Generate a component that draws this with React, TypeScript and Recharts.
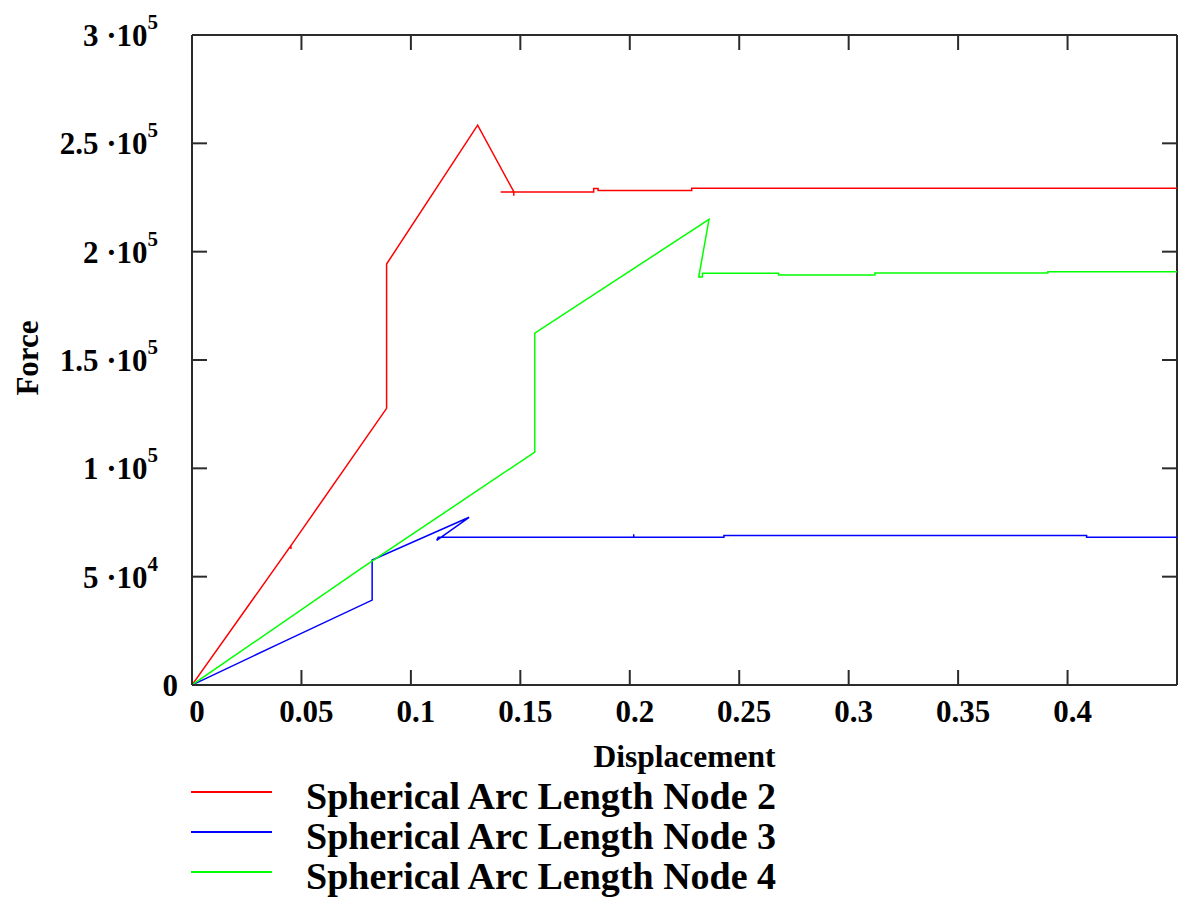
import React from 'react';
import { LineChart, Line, XAxis, YAxis, ReferenceLine } from 'recharts';

// displacement / force samples for each node (arc-length solver output)
const node2Disp = [0, 0.0452, 0.0452, 0.0452, 0.0889, 0.0889, 0.1305, 0.147, 0.147, 0.147, 0.141, 0.1835, 0.1835, 0.1855, 0.1855, 0.2283, 0.2283, 0.45];
const node2Force = [0, 64300, 62800, 64300, 127700, 194300, 258400, 227700, 225800, 227500, 227500, 227500, 229100, 229100, 228200, 228200, 229300, 229300];

const node3Disp = [0, 0.0402, 0.0823, 0.0823, 0.1266, 0.1118, 0.1125, 0.2018, 0.2018, 0.2018, 0.243, 0.243, 0.4087, 0.4087, 0.45];
const node3Force = [0, 19200, 39200, 57700, 77400, 66800, 68200, 68200, 69600, 68200, 68200, 69000, 69000, 68200, 68200];

const node4Disp = [0, 0.0775, 0.1566, 0.1566, 0.2362, 0.2315, 0.2332, 0.2332, 0.268, 0.268, 0.312, 0.312, 0.391, 0.391, 0.45];
const node4Force = [0, 53900, 107500, 162400, 214900, 188300, 188300, 190000, 190000, 189200, 189200, 190100, 190100, 190700, 190700];

const dispTicks = [0, 0.05, 0.1, 0.15, 0.2, 0.25, 0.3, 0.35, 0.4];
const forceTicks = [0, 50000, 100000, 150000, 200000, 250000, 300000];

const seriesNames = ['Spherical Arc Length Node 2', 'Spherical Arc Length Node 3', 'Spherical Arc Length Node 4'];
const seriesColors = ['#ff0000', '#0000ff', '#00ff00'];

const X_MAX = 0.45;
const Y_MAX = 300000;
const W = 1178;
const H = 778;
const MARGIN = { top: 35, right: 1, left: 0, bottom: 0 };
const Y_AXIS_W = 192;
const X_AXIS_H = 93;
const PLOT_W = W - MARGIN.left - MARGIN.right - Y_AXIS_W;
const PLOT_H = H - MARGIN.top - MARGIN.bottom - X_AXIS_H;
const TICK_PX = 15;
const tickDx = (TICK_PX / PLOT_W) * X_MAX;
const tickDy = (TICK_PX / PLOT_H) * Y_MAX;

const FONT = '"Liberation Serif", "Times New Roman", serif';
const AXIS_COLOR = '#2b2b2b';
const TICK_FONT = 31;
const LEGEND_TOP = 750;

const toPoints = (xs: number[], ys: number[]) => xs.map((x, i) => ({ x, y: ys[i] }));
const series = [
  toPoints(node2Disp, node2Force),
  toPoints(node3Disp, node3Force),
  toPoints(node4Disp, node4Force),
];

const sci = (v: number): [string, number] => {
  const e = Math.floor(Math.log10(v) + 1e-9);
  const m = v / Math.pow(10, e);
  return [String(+m.toFixed(2)), e];
};

const DispTick = ({ x, y, payload }: any) => (
  <text x={x + 5} y={y + 37} textAnchor="middle" fontFamily={FONT} fontWeight="bold" fontSize={TICK_FONT} fill="#000">
    {String(payload.value)}
  </text>
);

const ForceTick = ({ x, y, payload }: any) => {
  const v = payload.value as number;
  if (v === 0) {
    return (
      <text x={x - 14} y={y + 11} textAnchor="end" fontFamily={FONT} fontWeight="bold" fontSize={TICK_FONT} fill="#000">
        0
      </text>
    );
  }
  const [m, e] = sci(v);
  return (
    <text x={x - 34} y={y + 11} textAnchor="end" fontFamily={FONT} fontWeight="bold" fontSize={TICK_FONT} fill="#000">
      <tspan>{`${m} \u00B710`}</tspan>
      <tspan dy={-17} fontSize={21}>{String(e)}</tspan>
    </text>
  );
};

const ForceLabel = ({ viewBox }: any) => {
  const cx = 27;
  const cy = viewBox.y + viewBox.height / 2 - 2;
  return (
    <text x={cx} y={cy} transform={`rotate(-90, ${cx}, ${cy})`} textAnchor="middle" dominantBaseline="central"
      fontFamily={FONT} fontWeight="bold" fontSize={31} fill="#000">
      Force
    </text>
  );
};

const DispLabel = ({ viewBox }: any) => (
  <text x={viewBox.x + viewBox.width / 2} y={viewBox.y + 82} textAnchor="middle"
    fontFamily={FONT} fontWeight="bold" fontSize={31.5} fill="#000">
    Displacement
  </text>
);

const tickStyle = { stroke: AXIS_COLOR, strokeWidth: 2, ifOverflow: 'visible' as const };

export default function App() {
  return (
    <div style={{ position: 'absolute', left: 0, top: 0, width: W, height: 900, background: '#fff' }}>
      <LineChart width={W} height={H} margin={MARGIN}>
        <XAxis
          type="number"
          dataKey="x"
          domain={[0, X_MAX]}
          ticks={dispTicks}
          allowDataOverflow
          height={X_AXIS_H}
          tickLine={false}
          tickSize={0}
          tickMargin={0}
          axisLine={{ stroke: AXIS_COLOR, strokeWidth: 2 }}
          tick={<DispTick />}
          label={<DispLabel />}
        />
        <YAxis
          type="number"
          dataKey="y"
          domain={[0, Y_MAX]}
          ticks={forceTicks}
          allowDataOverflow
          width={Y_AXIS_W}
          tickLine={false}
          tickSize={0}
          tickMargin={0}
          axisLine={{ stroke: AXIS_COLOR, strokeWidth: 2 }}
          tick={<ForceTick />}
          label={<ForceLabel />}
        />
        {/* box: top and right borders */}
        <ReferenceLine y={Y_MAX} {...tickStyle} />
        <ReferenceLine x={X_MAX} {...tickStyle} />
        {/* inward ticks on all four sides */}
        {dispTicks.map((t) => (
          <ReferenceLine key={`xb-${t}`} segment={[{ x: t, y: 0 }, { x: t, y: tickDy }]} {...tickStyle} />
        ))}
        {dispTicks.map((t) => (
          <ReferenceLine key={`xt-${t}`} segment={[{ x: t, y: Y_MAX }, { x: t, y: Y_MAX - tickDy }]} {...tickStyle} />
        ))}
        {forceTicks.map((t) => (
          <ReferenceLine key={`yl-${t}`} segment={[{ x: 0, y: t }, { x: tickDx, y: t }]} {...tickStyle} />
        ))}
        {forceTicks.map((t) => (
          <ReferenceLine key={`yr-${t}`} segment={[{ x: X_MAX, y: t }, { x: X_MAX - tickDx, y: t }]} {...tickStyle} />
        ))}
        {series.map((pts, i) => (
          <Line
            key={seriesNames[i]}
            name={seriesNames[i]}
            data={pts}
            dataKey="y"
            type="linear"
            stroke={seriesColors[i]}
            strokeWidth={1.5}
            dot={false}
            activeDot={false}
            isAnimationActive={false}
          />
        ))}
      </LineChart>
      {/* legend sits under the x-axis title */}
      <svg width={W} height={900 - LEGEND_TOP} style={{ position: 'absolute', left: 0, top: LEGEND_TOP }}>
        {seriesNames.map((name, i) => (
          <g key={name}>
            <line x1={191} x2={272} y1={42 + 40 * i} y2={42 + 40 * i} stroke={seriesColors[i]} strokeWidth={2} />
            <text x={306} y={59 + 40 * i} fontFamily={FONT} fontWeight="bold" fontSize={38} fill="#000">
              {name}
            </text>
          </g>
        ))}
      </svg>
    </div>
  );
}
